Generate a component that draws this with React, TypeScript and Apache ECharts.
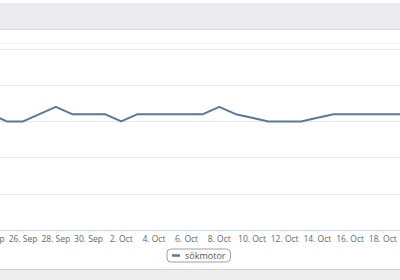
import React, { useEffect, useRef } from "react";
import * as echarts from "echarts";

const categories = [
  "24. Sep", "25. Sep", "26. Sep", "27. Sep", "28. Sep", "29. Sep", "30. Sep",
  "1. Oct", "2. Oct", "3. Oct", "4. Oct", "5. Oct", "6. Oct", "7. Oct", "8. Oct",
  "9. Oct", "10. Oct", "11. Oct", "12. Oct", "13. Oct", "14. Oct", "15. Oct",
  "16. Oct", "17. Oct", "18. Oct", "19. Oct", "20. Oct",
];
const sokmotor = [
  16, 15, 15, 16, 17, 16, 16, 16, 15, 16, 16, 16, 16, 16, 17, 16, 15.5, 15, 15,
  15, 15.5, 16, 16, 16, 16, 16, 16,
];
const seriesName = "sökmotor";

export default function App() {
  const ref = useRef<HTMLDivElement>(null);
  useEffect(() => {
    document.body.style.margin = "0";
    const chart = echarts.init(ref.current!, null, { renderer: "svg" });
    chart.setOption({
      animation: false,
      backgroundColor: "#ffffff",
      graphic: [
        { type: "rect", shape: { x: 0, y: 3, width: 400, height: 26 }, style: { fill: "#e9ebee" }, z: 0 },
        { type: "line", shape: { x1: 0, y1: 29.5, x2: 400, y2: 29.5 }, style: { stroke: "#d6d8db", lineWidth: 1 } },
        { type: "line", shape: { x1: 0, y1: 43.5, x2: 400, y2: 43.5 }, style: { stroke: "#f2f2f2", lineWidth: 1 } },
        { type: "rect", shape: { x: 0, y: 270, width: 400, height: 10 }, style: { fill: "#eceef0" }, z: 0 },
        { type: "line", shape: { x1: 0, y1: 269.5, x2: 400, y2: 269.5 }, style: { stroke: "#d0d2d5", lineWidth: 1 } },
      ],
      grid: {
        left: -9.6,
        right: -15.5,
        top: 49,
        bottom: 50,
        containLabel: false,
        outerBoundsMode: "none",
      },
      legend: {
        data: [seriesName],
        left: 167,
        top: 249,
        icon: "rect",
        itemWidth: 8,
        itemHeight: 2.5,
        itemGap: 4,
        padding: [2, 5],
        borderColor: "#a0a0a0",
        borderWidth: 1,
        borderRadius: 4,
        textStyle: { fontSize: 9, color: "#555", fontFamily: "Open Sans" },
      },
      xAxis: {
        type: "category",
        data: categories,
        boundaryGap: false,
        axisLine: { lineStyle: { color: "#ccd6eb" } },
        axisTick: { show: true, interval: 1, length: 3, lineStyle: { color: "#e0e6f0" } },
        axisLabel: {
          interval: 1,
          fontSize: 8.5,
          color: "#666",
          margin: 4,
          fontFamily: "Open Sans",
          hideOverlap: false,
          showMinLabel: true,
          showMaxLabel: false,
        },
        splitLine: { show: false },
      },
      yAxis: {
        type: "value",
        min: 0,
        max: 25,
        interval: 5,
        axisLabel: { show: false },
        axisLine: { show: false },
        axisTick: { show: false },
        splitLine: { lineStyle: { color: "#e6e6e6" } },
      },
      series: [
        {
          name: seriesName,
          type: "line",
          data: sokmotor,
          symbol: "none",
          lineStyle: { color: "#5a779c", width: 2 },
          itemStyle: { color: "#5a779c" },
        },
      ],
    });
    return () => chart.dispose();
  }, []);
  return <div ref={ref} style={{ width: 400, height: 280 }} />;
}
